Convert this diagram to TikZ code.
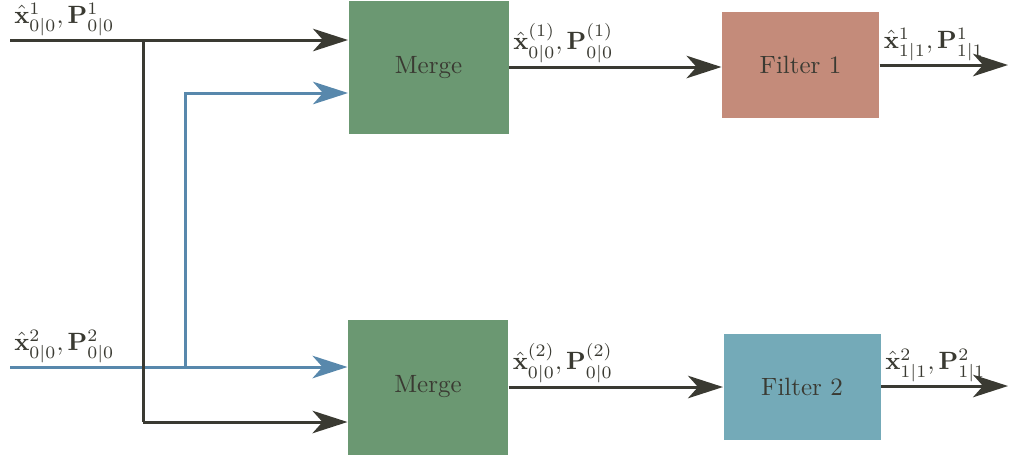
\documentclass[tikz,border=0pt]{standalone}
\usetikzlibrary{arrows.meta}
\definecolor{dk}{RGB}{58,58,50}
\definecolor{bl}{RGB}{88,136,172}
\definecolor{mg}{RGB}{107,152,114}
\definecolor{fa}{RGB}{196,139,122}
\definecolor{fb}{RGB}{116,170,184}
\begin{document}
\begin{tikzpicture}[x=0.4pt,y=-0.4pt,
  conn/.style={line width=1.2pt,-{Stealth[length=14pt,width=9pt,inset=4pt]}},
  wire/.style={line width=1.2pt},
  mergebox/.style={fill=mg,minimum width=64pt,minimum height=53pt,inner sep=0pt,text=dk},
  filterbox/.style={minimum width=62.8pt,minimum height=42.4pt,inner sep=0pt,text=dk},
  lab/.style={above right,inner sep=1.5pt,text=dk}]
\useasboundingbox (0,0) rectangle (1011,456);
\node[mergebox] (m1) at (428.5,67.5) {Merge};
\node[mergebox,minimum height=54pt] (m2) at (428,387) {Merge};
\node[filterbox,fill=fa] (f1) at (800.5,65) {Filter 1};
\node[filterbox,fill=fb] (f2) at (802,386.5) {Filter 2};
\coordinate (in1) at (10,40);
\coordinate (in2) at (10,367);
\coordinate (j1) at (143,40);
\coordinate (j2) at (143,422);
\coordinate (b1) at (185,367);
\coordinate (b2) at (185,93);
\coordinate (o1) at (1008,65);
\coordinate (o2) at (1008,386);
% blue
\draw[conn,bl] (in2) -- (in2 -| m2.west);
\draw[conn,bl] (b1) -- (b2) -- (b2 -| m1.west);
% dark
\draw[conn,dk] (in1) -- (in1 -| m1.west);
\draw[wire,dk] (j1) -- (j2);
\draw[conn,dk] (j2) -- (j2 -| m2.west);
\draw[conn,dk] (m1.east |- 0,67) -- (f1.west |- 0,67);
\draw[conn,dk] (m2.east |- 0,387) -- (f2.west |- 0,387);
\draw[conn,dk] (f1.east |- o1) -- (o1);
\draw[conn,dk] (f2.east |- o2) -- (o2);
% labels
\node[lab] (l1) at (in1) {$\hat{\mathbf{x}}^{1}_{0|0},\mathbf{P}^{1}_{0|0}$};
\node[lab] (l2) at (in2) {$\hat{\mathbf{x}}^{2}_{0|0},\mathbf{P}^{2}_{0|0}$};
\node[lab] (l3) at (m1.east |- 0,67) {$\hat{\mathbf{x}}^{(1)}_{0|0},\mathbf{P}^{(1)}_{0|0}$};
\node[lab] (l4) at (m2.east |- 0,387) {$\hat{\mathbf{x}}^{(2)}_{0|0},\mathbf{P}^{(2)}_{0|0}$};
\node[lab] (l5) at (f1.east |- o1) {$\hat{\mathbf{x}}^{1}_{1|1},\mathbf{P}^{1}_{1|1}$};
\node[lab] (l6) at (f2.east |- o2) {$\hat{\mathbf{x}}^{2}_{1|1},\mathbf{P}^{2}_{1|1}$};
\end{tikzpicture}
\end{document}
